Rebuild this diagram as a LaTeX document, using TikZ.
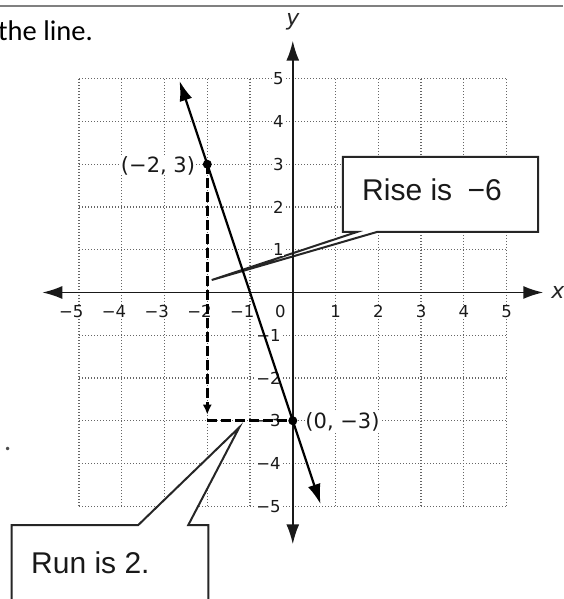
\documentclass[tikz,border=0pt]{standalone}
\usepackage{fontspec}
\setmainfont{Liberation Sans}
\newfontfamily\graphfont{DejaVu Sans}
\newfontfamily\bodyfont{Carlito}
\usetikzlibrary{arrows.meta,positioning,calc}

\begin{document}
\begin{tikzpicture}[
  x=42.75pt, y=42.75pt,
  >={Latex[length=20pt,width=13pt]},
  gridline/.style={black!60, line width=1.3pt, dash pattern=on 1.3pt off 1.7pt},
  axis/.style={<->, line width=1.8pt, black!90},
  tick/.style={font=\graphfont\fontsize{16.5}{16.5}\selectfont, text=black!90, fill=white, inner sep=0pt},
  ptlabel/.style={font=\graphfont\fontsize{21}{21}\selectfont, text=black!90, fill=white, inner sep=0.5pt},
  axlabel/.style={font=\graphfont\itshape\fontsize{22}{22}\selectfont, text=black!85, inner sep=0pt},
  dot/.style={circle, fill=black, inner sep=0pt, minimum size=9pt},
  callout/.style={draw=black!85, line width=2pt, fill=white, line join=miter},
  calltext/.style={font=\fontsize{30}{30}\selectfont, text=black!90, inner sep=0pt, anchor=base west},
  guide/.style={line width=3pt, dash pattern=on 10pt off 4pt}
]
  \useasboundingbox (-6.849,-7.170) rectangle (6.321,6.842);

  % text above the figure
  \coordinate (ruleL) at (-6.849,6.709);
  \coordinate (ruleR) at (6.321,6.709);
  \draw[black!50, line width=2pt] (ruleL) -- (ruleR);
  \node[font=\bodyfont\fontsize{28.5}{28.5}\selectfont, anchor=base west, inner sep=0pt] (head) at (-6.896,5.883) {the line.};
  \node[font=\bodyfont\fontsize{28.5}{28.5}\selectfont, text=black!70, anchor=base west, inner sep=0pt] (stop) at (-6.76,-3.691) {.};

  % grid
  \foreach \i in {-5,...,5} {
    \draw[gridline] (\i,-5) -- (\i,5);
    \draw[gridline] (-5,\i) -- (5,\i);
  }

  % callouts
  \coordinate (risetip) at (-1.897,0.292);
  \draw[callout] (1.499,1.415) -- (1.174,1.415) -- (1.174,3.170) -- (5.736,3.170)
    -- (5.736,1.415) -- (1.967,1.415) -- (risetip) -- cycle;
  \node[calltext] (rise) at (1.62,2.147) {Rise is\hspace{7pt} −6};

  \coordinate (runtip) at (-1.25,-3.153);
  \draw[callout] (-6.575,-7.4) -- (-6.575,-5.439) -- (-3.614,-5.439) -- (runtip)
    -- (-2.444,-5.439) -- (-1.977,-5.439) -- (-1.977,-7.4);
  \node[calltext] (run) at (-6.124,-6.585) {Run is 2.};

  % tick labels
  \foreach \i in {1,...,5} {
    \node[tick, anchor=north] (xp\i) at (\i,0) [yshift=-12.5pt] {\i};
    \node[tick, anchor=north east] (xn\i) at (-\i,0) [xshift=4.5pt, yshift=-12.5pt] {−\i};
    \node[tick, anchor=east] (yp\i) at (0,\i) [xshift=-9pt] {\i};
    \node[tick, anchor=east] (yn\i) at (0,-\i) [xshift=-12pt] {−\i};
  }
  \node[tick, anchor=north east] (o) at (0,0) [xshift=-7pt, yshift=-12.5pt] {0};

  % axes
  \coordinate (xl) at (-5.86,0);
  \coordinate (xr) at (5.86,0);
  \coordinate (yb) at (0,-5.89);
  \coordinate (yt) at (0,5.89);
  \draw[axis] (xl) -- (xr);
  \draw[axis] (yb) -- (yt);
  \node[axlabel] (xlab) at (6.2,0) {x};
  \node[axlabel] (ylab) at (0,6.335) {y};

  % the line and its two points
  \node[dot] (p1) at (-2,3) {};
  \node[dot] (p2) at (0,-3) {};
  \coordinate (corner) at (-2,-3);
  \coordinate (lt) at (-2.65,4.95);
  \coordinate (lb) at (0.65,-4.95);
  \draw[guide, -{Latex[length=10pt,width=9pt]}] (p1.center) -- ([yshift=6pt]corner);
  \draw[guide] (corner) -- (p2.center);
  \draw[<->, line width=2.2pt] (lt) -- (lb);
  \node[ptlabel, anchor=east] (l1) at (-2.27,2.97) {(−2, 3)};
  \node[ptlabel, anchor=west] (l2) at (0.28,-3.02) {(0, −3)};
\end{tikzpicture}
\end{document}
